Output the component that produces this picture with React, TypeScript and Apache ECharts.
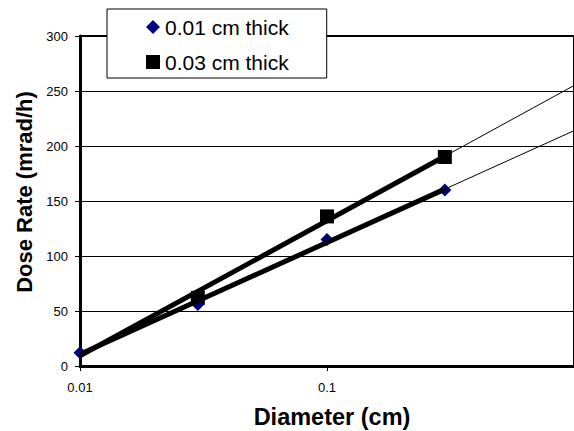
import React, { useEffect, useRef } from 'react';
import * as echarts from 'echarts';

const diameters = [0.01, 0.03, 0.1, 0.3];
const dose001 = [12, 56, 115, 160];
const dose003 = [12, 62, 136, 190];
const seriesNames = ['0.01 cm thick', '0.03 cm thick'];
const xRange = [0.01, 1];
const yRange = [0, 300];
const yStep = 50;
const xTitle = 'Diameter (cm)';
const yTitle = 'Dose Rate (mrad/h)';

const FONT = '"Liberation Sans", Arial, sans-serif';

// logarithmic trendline: y = a + b * log10(x)
function logFit(xs: number[], ys: number[]) {
  const lx = xs.map((x) => Math.log10(x));
  const n = lx.length;
  const mx = lx.reduce((s, v) => s + v, 0) / n;
  const my = ys.reduce((s, v) => s + v, 0) / n;
  let sxy = 0;
  let sxx = 0;
  for (let i = 0; i < n; i++) {
    sxy += (lx[i] - mx) * (ys[i] - my);
    sxx += (lx[i] - mx) * (lx[i] - mx);
  }
  const b = sxy / sxx;
  const a = my - b * mx;
  return (x: number) => a + b * Math.log10(x);
}

export default function App() {
  const ref = useRef<HTMLDivElement>(null);
  useEffect(() => {
    document.body.style.margin = '0';
    const chart = echarts.init(ref.current!, undefined, { renderer: 'svg' });
    const f1 = logFit(diameters, dose001);
    const f3 = logFit(diameters, dose003);
    const x0 = diameters[0];
    const xl = diameters[diameters.length - 1];
    const thick = { color: '#000', width: 5 };
    const thin = { color: '#000', width: 1 };
    chart.setOption({
      animation: false,
      grid: {
        left: 80,
        top: 36,
        bottom: 65,
        right: -4,
        show: true,
        borderColor: '#000',
        borderWidth: 2,
        backgroundColor: '#fff',
      },
      legend: {
        left: 107,
        top: 9,
        orient: 'vertical',
        align: 'left',
        padding: [7.5, 38, 5.5, 39],
        itemGap: 14,
        itemWidth: 14,
        itemHeight: 14,
        backgroundColor: '#fff',
        borderColor: '#000',
        borderWidth: 1,
        data: seriesNames,
        textStyle: { fontSize: 21, lineHeight: 21, color: '#000', fontFamily: FONT },
      },
      xAxis: {
        type: 'log',
        logBase: 10,
        min: xRange[0],
        max: xRange[1],
        axisLine: { show: true, lineStyle: { color: '#000', width: 3 } },
        axisTick: { show: true, length: 5, lineStyle: { color: '#000', width: 1 } },
        minorTick: { show: false },
        splitLine: { show: false },
        axisLabel: {
          showMaxLabel: false,
          margin: 15,
          fontSize: 13,
          color: '#000',
          fontFamily: FONT,
          formatter: (v: number) => String(+v.toPrecision(3)),
        },
      },
      yAxis: {
        type: 'value',
        min: yRange[0],
        max: yRange[1],
        interval: yStep,
        axisLine: { show: true, lineStyle: { color: '#000', width: 3 } },
        axisTick: { show: true, length: 5, lineStyle: { color: '#000', width: 1 } },
        splitLine: { show: true, lineStyle: { color: '#000', width: 1 } },
        axisLabel: { margin: 12, fontSize: 13, color: '#000', fontFamily: FONT },
      },
      graphic: [
        {
          type: 'text',
          x: 332,
          y: 417,
          style: {
            text: xTitle,
            fontSize: 23.5,
            fontWeight: 'bold',
            fontFamily: FONT,
            fill: '#000',
            align: 'center',
            verticalAlign: 'middle',
          },
        },
        {
          type: 'text',
          x: 24,
          y: 192,
          rotation: Math.PI / 2,
          style: {
            text: yTitle,
            fontSize: 22,
            fontWeight: 'bold',
            fontFamily: FONT,
            fill: '#000',
            align: 'center',
            verticalAlign: 'middle',
          },
        },
      ],
      series: [
        {
          name: seriesNames[1],
          type: 'scatter',
          symbol: 'rect',
          z: 2,
          itemStyle: { color: '#000', opacity: 1 },
          data: diameters.map((d, i) => ({ value: [d, dose003[i]], symbolSize: i === 0 ? 0 : 14 })),
        },
        {
          name: seriesNames[0],
          type: 'scatter',
          symbol: 'diamond',
          symbolSize: 13,
          z: 3,
          itemStyle: { color: '#000080', opacity: 1 },
          data: diameters.map((d, i) => [d, dose001[i]]),
        },
        {
          type: 'line',
          z: 4,
          symbol: 'none',
          lineStyle: thick,
          data: [[x0, f1(x0)], [xl, f1(xl)]],
        },
        {
          type: 'line',
          z: 4,
          symbol: 'none',
          lineStyle: thick,
          data: [[x0, f3(x0)], [xl, f3(xl)]],
        },
        {
          type: 'line',
          z: 4,
          symbol: 'none',
          lineStyle: thin,
          data: [[xl, f1(xl)], [xRange[1], f1(xRange[1])]],
        },
        {
          type: 'line',
          z: 4,
          symbol: 'none',
          lineStyle: thin,
          data: [[xl, f3(xl)], [xRange[1], f3(xRange[1])]],
        },
      ],
    });
    return () => chart.dispose();
  }, []);
  return <div ref={ref} style={{ width: 574, height: 431 }} />;
}
